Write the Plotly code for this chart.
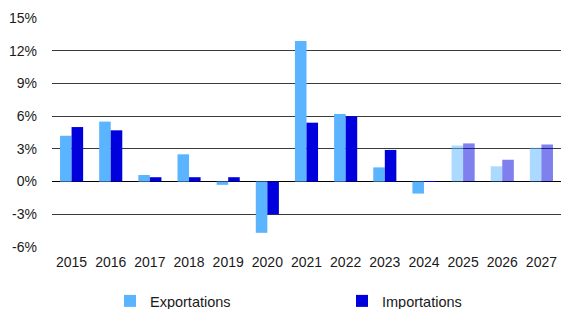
import plotly.graph_objects as go

years = ["2015","2016","2017","2018","2019","2020","2021","2022","2023","2024","2025","2026","2027"]
exportations = [4.2, 5.5, 0.6, 2.5, -0.3, -4.7, 12.9, 6.2, 1.3, -1.1, 3.3, 1.4, 3.1]
importations = [5.0, 4.7, 0.4, 0.4, 0.4, -3.0, 5.4, 6.0, 2.9, 0.05, 3.5, 2.0, 3.4]
forecast = [False]*10 + [True]*3

exp_colors = ["rgba(90,180,255,0.5)" if f else "#5AB4FF" for f in forecast]
imp_colors = ["rgba(0,0,220,0.5)" if f else "#0000DC" for f in forecast]

fig = go.Figure()
fig.add_trace(go.Bar(x=years, y=exportations, name="Exportations",
                     marker=dict(color=exp_colors, line=dict(width=0))))
fig.add_trace(go.Bar(x=years, y=importations, name="Importations",
                     marker=dict(color=imp_colors, line=dict(width=0))))

fig.update_layout(
    width=562, height=309,
    margin=dict(l=52, r=1, t=18, b=62),
    paper_bgcolor="white", plot_bgcolor="white",
    barmode="group", bargap=0.41, bargroupgap=0,
    font=dict(family="Liberation Sans, Arial, sans-serif", size=14, color="#1a1a1a"),
    showlegend=True,
    legend=dict(orientation="h", xref="container", yref="container",
                x=0.1957, xanchor="left", y=0.026, yanchor="middle",
                entrywidth=187, entrywidthmode="pixels", itemwidth=30,
                font=dict(size=14.5, color="#1a1a1a")),
    xaxis=dict(showgrid=False, showline=False, ticks="", tickfont=dict(size=14),
               ticklabelstandoff=5),
    yaxis=dict(range=[-6, 15], tickvals=[-6,-3,0,3,6,9,12,15],
               ticktext=["-6%","-3%","0%","3%","6%","9%","12%","15%"],
               showgrid=True, gridcolor="#3a3a3a", gridwidth=1,
               zeroline=True, zerolinecolor="#000000", zerolinewidth=1,
               showline=False, ticks="", tickfont=dict(size=14),
               ticklabelstandoff=14),
)

fig.write_html("out.html", config={"displayModeBar": False},
               post_script="document.body.style.margin='0px';")
